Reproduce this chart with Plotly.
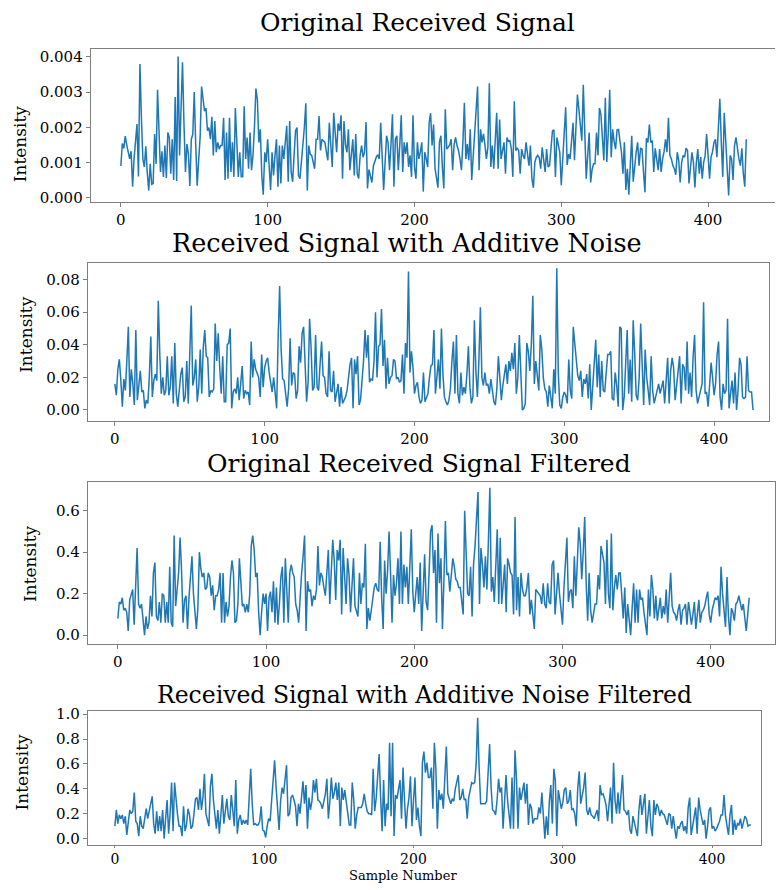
import plotly.graph_objects as go

# ---- data (sample index 0..426) ----
# original received signal, intensity in units of 1e-5
orig_e5 = [
    90, 154, 140, 175, 150, 125, 110, 132, 31, 110, 160, 209, 60, 380, 230, 110, 87, 146, 70, 20,
    96, 38, 40, 181, 96, 307, 190, 73, 132, 59, 148, 56, 185, 171, 68, 166, 50, 286, 47, 401,
    120, 230, 385, 210, 73, 152, 126, 33, 166, 180, 300, 150, 34, 106, 171, 316, 279, 246, 255, 190,
    199, 166, 230, 120, 218, 129, 157, 138, 148, 148, 227, 50, 185, 54, 227, 73, 157, 59, 255, 130,
    59, 129, 59, 59, 260, 110, 171, 82, 185, 78, 120, 200, 310, 279, 157, 194, 63, 8, 129, 101,
    166, 90, 22, 129, 63, 120, 166, 31, 148, 40, 148, 110, 150, 204, 45, 218, 73, 45, 120, 190,
    199, 63, 54, 100, 148, 200, 268, 20, 148, 124, 120, 100, 82, 166, 166, 232, 134, 166, 160, 157,
    130, 106, 213, 150, 87, 241, 180, 129, 211, 190, 234, 54, 218, 150, 129, 194, 78, 120, 166, 63,
    181, 68, 54, 120, 148, 115, 129, 215, 26, 80, 63, 43, 90, 105, 115, 122, 110, 213, 120, 22,
    100, 176, 157, 78, 150, 237, 31, 166, 176, 78, 150, 234, 73, 157, 124, 157, 87, 120, 59, 234,
    87, 54, 157, 110, 130, 157, 17, 129, 110, 87, 213, 240, 148, 208, 84, 60, 28, 157, 176, 87,
    26, 251, 138, 143, 150, 166, 78, 150, 171, 148, 134, 110, 78, 157, 270, 110, 152, 106, 194, 50,
    120, 208, 260, 316, 78, 194, 157, 181, 150, 110, 143, 325, 87, 148, 82, 160, 241, 82, 222, 110,
    130, 157, 68, 171, 160, 162, 138, 59, 274, 134, 140, 134, 68, 138, 120, 110, 157, 120, 91, 148,
    54, 28, 100, 115, 120, 113, 82, 143, 101, 73, 138, 87, 91, 140, 190, 193, 59, 171, 150, 129,
    35, 120, 180, 257, 93, 124, 110, 157, 213, 106, 204, 293, 251, 200, 162, 321, 148, 54, 120, 185,
    43, 80, 96, 96, 185, 120, 255, 237, 170, 106, 284, 101, 185, 307, 115, 194, 160, 138, 193, 194,
    160, 129, 68, 157, 22, 82, 8, 110, 176, 45, 100, 129, 157, 91, 140, 138, 73, 15, 169, 157,
    208, 157, 162, 73, 140, 100, 78, 138, 73, 110, 130, 166, 129, 227, 120, 110, 91, 82, 65, 129,
    106, 43, 100, 120, 115, 141, 134, 40, 100, 129, 101, 29, 100, 138, 68, 115, 54, 100, 120, 181,
    120, 54, 115, 130, 157, 166, 115, 200, 281, 157, 59, 241, 150, 82, 6, 120, 110, 50, 148, 171,
    134, 110, 91, 140, 68, 31, 166,
]
# received signal with additive noise, intensity in units of 1e-3
noisy_e3 = [
    16, 9, 25, 31, 18, 2, 19, 12, 30, 51, 8, 25, 16, 3, 49, 6, 15, 24, 11, 12,
    1, 6, 4, 20, 45, 8, 18, 22, 18, 67, 34, 10, 20, 9, 12, 33, 9, 14, 33, 4,
    41, 10, 2, 12, 22, 26, 5, 8, 30, 4, 30, 64, 15, 20, 31, 5, 14, 37, 10, 38,
    49, 33, 32, 8, 12, 11, 13, 53, 30, 47, 26, 10, 33, 5, 5, 40, 41, 50, 1, 11,
    13, 10, 20, 6, 16, 27, 7, 12, 10, 11, 3, 42, 20, 31, 25, 22, 20, 8, 34, 14,
    26, 30, 32, 23, 18, 11, 20, 12, 1, 44, 76, 37, 19, 18, 10, 2, 13, 44, 15, 23,
    22, 7, 12, 39, 29, 47, 51, 23, 5, 17, 56, 38, 12, 14, 46, 14, 12, 28, 42, 21,
    20, 10, 8, 36, 12, 11, 24, 5, 10, 16, 2, 14, 4, 6, 8, 12, 20, 28, 32, 1,
    31, 22, 33, 3, 6, 16, 30, 49, 32, 46, 17, 19, 18, 30, 60, 20, 39, 40, 62, 27,
    43, 13, 32, 16, 20, 21, 31, 30, 19, 20, 17, 18, 34, 10, 41, 32, 85, 23, 36, 26,
    10, 15, 17, 8, 4, 6, 23, 5, 7, 10, 20, 27, 28, 49, 10, 23, 31, 13, 50, 22,
    8, 5, 3, 6, 13, 30, 42, 10, 46, 10, 4, 23, 9, 14, 10, 22, 39, 14, 4, 8,
    55, 24, 8, 30, 63, 20, 15, 23, 15, 16, 10, 19, 12, 5, 3, 13, 33, 16, 6, 15,
    23, 28, 16, 30, 24, 35, 25, 41, 10, 20, 46, 26, 0, 1, 4, 41, 36, 24, 40, 70,
    16, 30, 20, 12, 46, 37, 20, 13, 11, 2, 15, 6, 1, 25, 10, 87, 23, 3, 1, 8,
    11, 9, 4, 31, 12, 7, 51, 41, 30, 21, 18, 24, 8, 19, 16, 22, 7, 28, 0, 16,
    30, 43, 14, 34, 8, 30, 12, 11, 23, 34, 34, 36, 7, 6, 23, 15, 2, 51, 50, 0,
    8, 30, 49, 10, 31, 5, 55, 35, 9, 6, 20, 53, 25, 3, 37, 20, 12, 3, 33, 12,
    4, 8, 13, 16, 10, 14, 18, 4, 18, 32, 4, 24, 32, 26, 6, 15, 21, 33, 4, 28,
    26, 12, 42, 10, 23, 8, 33, 46, 12, 4, 8, 12, 16, 66, 10, 11, 2, 15, 29, 20,
    9, 16, 34, 42, 8, 0, 16, 10, 12, 56, 1, 10, 18, 4, 23, 0, 12, 32, 28, 8,
    7, 8, 33, 12, 11, 11, 0,
]
# original received signal after filtering, intensity in units of 1e-2
orig_filt_e2 = [
    8, 16, 15, 18, 12, 13, 11, 2, 17, 19, 22, 5, 21, 42, 15, 13, 15, 7, 0, 9,
    3, 6, 19, 9, 30, 35, 9, 7, 16, 6, 20, 19, 6, 16, 6, 33, 6, 4, 48, 14,
    24, 30, 47, 31, 6, 17, 19, 3, 18, 30, 38, 20, 9, 3, 13, 40, 32, 28, 30, 22,
    23, 30, 28, 19, 24, 12, 19, 19, 22, 30, 6, 30, 6, 16, 9, 14, 28, 36, 30, 6,
    7, 15, 37, 23, 14, 15, 11, 15, 11, 20, 43, 48, 41, 28, 30, 11, 0, 11, 20, 15,
    20, 2, 18, 21, 11, 26, 6, 23, 5, 15, 28, 33, 6, 37, 18, 6, 30, 34, 30, 28,
    15, 12, 6, 20, 30, 38, 48, 2, 26, 21, 22, 14, 19, 17, 22, 43, 24, 30, 28, 23,
    19, 30, 41, 15, 30, 46, 36, 17, 41, 36, 46, 10, 42, 30, 15, 37, 29, 11, 25, 37,
    14, 12, 9, 30, 15, 25, 23, 44, 3, 13, 7, 12, 19, 23, 25, 22, 21, 45, 18, 3,
    36, 20, 31, 50, 30, 6, 29, 19, 25, 37, 15, 50, 15, 34, 23, 33, 15, 30, 51, 21,
    11, 20, 28, 15, 35, 2, 23, 39, 16, 12, 30, 50, 53, 30, 41, 6, 49, 25, 37, 3,
    26, 55, 29, 30, 21, 28, 37, 33, 27, 26, 23, 23, 15, 10, 60, 34, 20, 19, 33, 9,
    34, 43, 55, 69, 15, 42, 34, 23, 38, 22, 45, 71, 21, 28, 16, 30, 51, 15, 47, 15,
    25, 34, 11, 37, 34, 30, 29, 10, 57, 12, 28, 9, 30, 22, 19, 19, 23, 30, 10, 17,
    10, 3, 22, 21, 20, 19, 15, 25, 15, 13, 25, 16, 15, 34, 36, 10, 20, 30, 20, 10,
    5, 23, 35, 47, 16, 21, 22, 13, 38, 19, 35, 52, 44, 27, 40, 57, 25, 7, 30, 12,
    6, 11, 15, 15, 29, 22, 43, 39, 35, 15, 46, 20, 13, 49, 12, 23, 29, 22, 30, 30,
    20, 8, 23, 1, 15, 6, 0, 13, 25, 6, 22, 6, 22, 17, 18, 11, 4, 0, 22, 9,
    29, 22, 8, 19, 7, 12, 18, 8, 14, 10, 22, 6, 18, 30, 14, 11, 10, 7, 12, 15,
    5, 12, 13, 15, 5, 16, 11, 5, 10, 16, 3, 11, 17, 6, 11, 12, 14, 18, 21, 10,
    6, 12, 15, 18, 17, 19, 9, 33, 20, 12, 4, 28, 9, 0, 13, 11, 7, 15, 16, 19,
    15, 12, 15, 8, 2, 10, 18,
]
# received signal with additive noise after filtering, intensity in units of 1e-2
noisy_filt_e2 = [
    10, 23, 12, 19, 16, 19, 12, 18, 3, 16, 23, 20, 22, 37, 14, 12, 2, 18, 10, 8,
    16, 24, 16, 22, 28, 34, 12, 4, 22, 6, 18, 6, 23, 0, 16, 31, 4, 20, 45, 6,
    45, 31, 19, 10, 10, 2, 26, 6, 11, 24, 19, 8, 10, 20, 32, 33, 23, 40, 23, 33,
    52, 20, 15, 10, 42, 52, 31, 19, 8, 23, 4, 19, 35, 12, 20, 32, 18, 15, 35, 20,
    10, 47, 4, 15, 19, 11, 15, 12, 15, 11, 30, 56, 28, 11, 12, 11, 11, 14, 26, 7,
    6, 1, 10, 16, 14, 31, 40, 63, 41, 23, 7, 30, 41, 36, 50, 59, 18, 20, 33, 35,
    31, 26, 10, 28, 20, 33, 46, 28, 43, 8, 33, 23, 30, 47, 37, 48, 31, 30, 28, 24,
    32, 36, 48, 16, 30, 49, 32, 37, 45, 31, 45, 10, 41, 31, 39, 28, 20, 11, 11, 45,
    31, 8, 19, 25, 25, 25, 28, 36, 28, 22, 20, 20, 19, 56, 22, 32, 50, 68, 33, 6,
    47, 10, 28, 23, 77, 18, 77, 2, 35, 32, 40, 47, 16, 57, 31, 8, 24, 33, 50, 10,
    30, 49, 15, 25, 10, 2, 61, 70, 53, 61, 49, 49, 57, 24, 77, 56, 8, 39, 31, 36,
    24, 50, 74, 36, 31, 28, 32, 30, 40, 45, 51, 31, 33, 40, 31, 32, 16, 33, 40, 45,
    44, 45, 60, 97, 56, 28, 28, 28, 28, 30, 55, 76, 41, 23, 22, 19, 31, 48, 37, 41,
    8, 33, 51, 31, 20, 8, 49, 8, 71, 48, 8, 41, 31, 38, 45, 28, 44, 11, 28, 25,
    12, 16, 16, 16, 25, 20, 37, 20, 0, 18, 3, 30, 43, 12, 56, 47, 2, 39, 31, 24,
    29, 39, 41, 28, 30, 39, 23, 24, 20, 10, 40, 54, 28, 35, 41, 53, 23, 19, 25, 19,
    18, 16, 20, 23, 14, 43, 35, 36, 32, 27, 14, 30, 41, 12, 61, 31, 20, 37, 20, 35,
    51, 23, 22, 19, 23, 7, 4, 18, 12, 8, 2, 23, 35, 19, 28, 36, 4, 19, 31, 10,
    2, 31, 19, 28, 25, 18, 23, 20, 19, 15, 11, 20, 19, 8, 18, 8, 0, 10, 8, 12,
    14, 6, 10, 4, 25, 33, 3, 10, 16, 25, 4, 33, 23, 16, 11, 15, 0, 10, 23, 25,
    8, 10, 6, 8, 11, 14, 19, 19, 35, 18, 10, 3, 19, 27, 3, 15, 7, 12, 11, 16,
    8, 14, 18, 16, 10, 11, 11,
]

titles = [
    "Original Received Signal",
    "Received Signal with Additive Noise",
    "Original Received Signal Filtered",
    "Received Signal with Additive Noise Filtered",
]
y_ticks = [
    [0.0, 0.001, 0.002, 0.003, 0.004],
    [0.0, 0.02, 0.04, 0.06, 0.08],
    [0.0, 0.2, 0.4, 0.6],
    [0.0, 0.2, 0.4, 0.6, 0.8, 1.0],
]
y_ticktext = [
    ["0.000", "0.001", "0.002", "0.003", "0.004"],
    ["0.00", "0.02", "0.04", "0.06", "0.08"],
    ["0.0", "0.2", "0.4", "0.6"],
    ["0.0", "0.2", "0.4", "0.6", "0.8", "1.0"],
]
x_ticks = [0, 100, 200, 300, 400]

series = [
    [v * 1e-5 for v in orig_e5],
    [v * 1e-3 for v in noisy_e3],
    [v * 1e-2 for v in orig_filt_e2],
    [v * 1e-2 for v in noisy_filt_e2],
]
samples = list(range(len(orig_e5)))

W, H = 776, 890
SERIF = "DejaVu Serif"
LINE_C = "#1f77b4"
FRAME_C = "#7f7f7f"

# panel geometry in page pixels:
# (left, right, top, bottom, px of x=0, px per sample, px of y=0, px per unit y)
panels = [
    (91, 776, 44, 198, 121, 1.470, 194, 35600),
    (88, 770, 260, 420, 115, 1.500, 409, 1650),
    (88, 776, 482, 646, 118, 1.484, 637, 210),
    (88, 762, 714, 849, 115, 1.495, 843, 126),
]
# title centre (x, y) and font size
title_pos = [(418, 17, 25), (408, 240, 25.5), (420, 463, 25), (425, 698, 23.5)]
ylabel_pos = [(20, 140), (26, 333), (30, 565), (22, 776)]
x_ticklen = [4, 4, 4, 2]
x_tickfont = [15, 15, 15, 14]

fig = go.Figure()
layout = dict(
    width=W, height=H, margin=dict(l=0, r=0, t=0, b=0),
    paper_bgcolor="white", plot_bgcolor="white", showlegend=False,
    annotations=[],
)

for k, (x0, x1, y0, y1, px0, pxs, py0, pys) in enumerate(panels):
    n = "" if k == 0 else str(k + 1)
    fig.add_trace(go.Scatter(
        x=samples, y=series[k], mode="lines",
        line=dict(color=LINE_C, width=1.5),
        xaxis="x" + n, yaxis="y" + n, hoverinfo="skip",
    ))
    xr = [(x0 - px0) / pxs, (x1 - px0) / pxs]
    yr = [(py0 - y1) / pys, (py0 - y0) / pys]
    layout["xaxis" + n] = dict(
        domain=[x0 / W, x1 / W], range=xr, anchor="y" + n,
        tickmode="array", tickvals=x_ticks, ticks="outside", ticklen=x_ticklen[k],
        tickcolor=FRAME_C, showgrid=False, zeroline=False,
        showline=True, linecolor=FRAME_C, linewidth=1.3, mirror=True,
        tickfont=dict(family=SERIF, size=x_tickfont[k], color="black"),
    )
    layout["yaxis" + n] = dict(
        domain=[1 - y1 / H, 1 - y0 / H], range=yr, anchor="x" + n,
        tickmode="array", tickvals=y_ticks[k], ticktext=y_ticktext[k],
        ticks="outside", ticklen=4, tickcolor=FRAME_C,
        showgrid=False, zeroline=False,
        showline=True, linecolor=FRAME_C, linewidth=1.3, mirror=(k != 0),
        tickfont=dict(family=SERIF, size=15, color="black"),
    )
    tx, ty, ts = title_pos[k]
    layout["annotations"].append(dict(
        text=titles[k], x=tx / W, y=1 - ty / H, xref="paper", yref="paper",
        xanchor="center", yanchor="middle", showarrow=False,
        font=dict(family=SERIF, size=ts, color="black"),
    ))
    lx, ly = ylabel_pos[k]
    layout["annotations"].append(dict(
        text="Intensity", x=lx / W, y=1 - ly / H, xref="paper", yref="paper",
        xanchor="center", yanchor="middle", showarrow=False, textangle=-90,
        font=dict(family=SERIF, size=17, color="black"),
    ))

layout["annotations"].append(dict(
    text="Sample Number", x=404 / W, y=0, xref="paper", yref="paper",
    xanchor="center", yanchor="bottom", showarrow=False,
    font=dict(family=SERIF, size=13, color="black"),
))

fig.update_layout(**layout)
fig.write_html("out.html")
